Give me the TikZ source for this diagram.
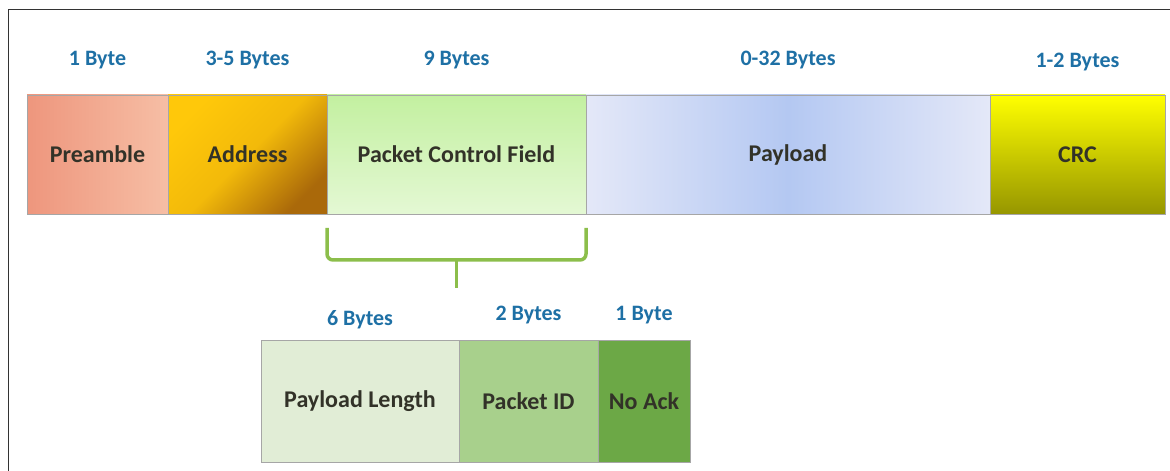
\documentclass[tikz,border=0pt]{standalone}
\usepackage{fontspec}
\setmainfont{Carlito}
\usetikzlibrary{positioning}
\definecolor{sizeblue}{RGB}{30,112,165}
\definecolor{inkdark}{RGB}{50,50,40}
\definecolor{bracegreen}{RGB}{140,190,75}
\definecolor{preA}{RGB}{238,150,125}
\definecolor{preB}{RGB}{246,190,165}
\definecolor{addrA}{RGB}{255,200,10}
\definecolor{addrB}{RGB}{170,105,10}
\definecolor{pcfA}{RGB}{195,240,160}
\definecolor{pcfB}{RGB}{228,248,212}
\definecolor{payA}{RGB}{228,232,248}
\definecolor{payB}{RGB}{180,200,242}
\definecolor{crcA}{RGB}{255,255,0}
\definecolor{crcB}{RGB}{150,150,0}
\definecolor{lenC}{RGB}{225,237,214}
\definecolor{pidC}{RGB}{168,208,140}
\definecolor{ackC}{RGB}{108,168,70}
\tikzstyle{field}=[draw=black!35, line width=0.6pt, outer sep=0pt, inner sep=0pt,
  anchor=west, minimum height=119pt, text=inkdark,
  font=\fontsize{24}{28}\selectfont\bfseries]
\tikzstyle{sub} = [field, minimum height=122pt]
\tikzstyle{size} = [text=sizeblue, font=\fontsize{22}{26}\selectfont\bfseries]
\tikzstyle{brace} = [draw, line width=3.5pt, color=bracegreen, rounded corners=6pt]
\newcommand{\pfield}[4]{node (f#1) [field, minimum width=#2pt, #3] {#4}}
\newcommand{\psub}[4]{node (s#1) [sub, minimum width=#2pt, #3] {#4}}
\newcommand{\psize}[3]{%
  \path (#1.north)+(0,#2) node (#1-size) [size] {#3};}

\begin{document}
\begin{tikzpicture}[x=1pt,y=1pt]
  \useasboundingbox (0,0) rectangle (1170,471);

  % Frame
  \draw[black!80, line width=1pt] (8,0) -- (8,461) -- (1170,461);

  % Draw packet fields
  \path (27,316.5) \pfield{1}{141}{left color=preA, right color=preB}{Preamble};
  \path (f1.east) \pfield{2}{159}{top color=addrA, bottom color=addrB,
    middle color=addrA!85!addrB, shading angle=45}{Address};
  \path (f2.east) \pfield{3}{259}{top color=pcfA, bottom color=pcfB}{Packet Control Field};
  \path (f3.east) \pfield{4}{404}{left color=payA, right color=payA,
    middle color=payB}{Payload};
  \path (f4.east) \pfield{5}{175}{top color=crcA, bottom color=crcB}{CRC};

  % Draw control field parts
  \path (261,70) \psub{1}{198}{fill=lenC}{Payload Length};
  \path (s1.east) \psub{2}{139}{fill=pidC}{Packet ID};
  \path (s2.east) \psub{3}{92}{fill=ackC}{No Ack};

  % Byte counts
  \psize{f1}{35}{1 Byte}
  \psize{f2}{35}{3-5 Bytes}
  \psize{f3}{35}{9 Bytes}
  \psize{f4}{35}{0-32 Bytes}
  \psize{f5}{33}{1-2 Bytes}
  \psize{s1}{20}{6 Bytes}
  \psize{s2}{25}{2 Bytes}
  \psize{s3}{25}{1 Byte}

  % Brace under the control field
  \path ([yshift=-14pt]f3.south west) coordinate (b1)
        ([yshift=-46pt]f3.south west) coordinate (b2)
        ([yshift=-46pt]f3.south east) coordinate (b3)
        ([yshift=-14pt]f3.south east) coordinate (b4)
        ([yshift=-46pt]f3.south) coordinate (b5)
        ([yshift=-74pt]f3.south) coordinate (b6);
  \path [brace] (b1) -- (b2) -- (b3) -- (b4);
  \path [brace, rounded corners=0pt] (b5) -- (b6);
\end{tikzpicture}
\end{document}
